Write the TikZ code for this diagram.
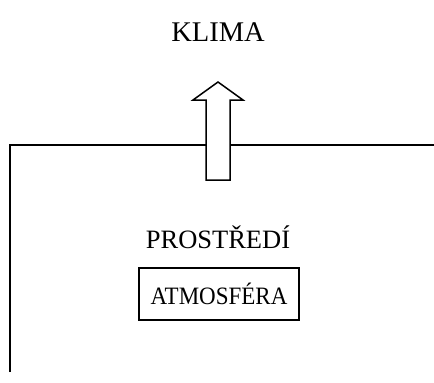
\documentclass[tikz,border=0pt]{standalone}
\usepackage{fontspec}
\setmainfont{Liberation Serif}
\begin{document}
\begin{tikzpicture}[x=1pt,y=-1pt,
  lbl/.style={inner sep=0pt},
  ln/.style={line width=1.5pt,black},
  box/.style={draw,line width=1.2pt,minimum width=160pt,minimum height=52pt,inner sep=0pt}]
\useasboundingbox (0,0) rectangle (434,383);
\node[lbl,font=\fontsize{28.5}{32}\selectfont] (klima) at (218,32) {KLIMA};
\node[lbl,font=\fontsize{26.5}{30}\selectfont] (prostredi) at (218,237) {PROSTŘEDÍ};
\node[box,font=\fontsize{25}{28}\selectfont] (atm) at (219,294) {\scalebox{0.92}[1]{ATMOSFÉRA}};
\coordinate (c1) at (10,372);
\coordinate (c2) at (10,145);
\coordinate (c3) at (434,145);
\draw[ln] (c1) -- (c2) -- (c3);
\coordinate (tip) at (218,82);
\draw[ln,fill=white,line join=miter]
  (tip) -- (243,100) -- (230,100) -- (230,180) -- (206,180) -- (206,100) -- (193,100) -- cycle;
\end{tikzpicture}
\end{document}
